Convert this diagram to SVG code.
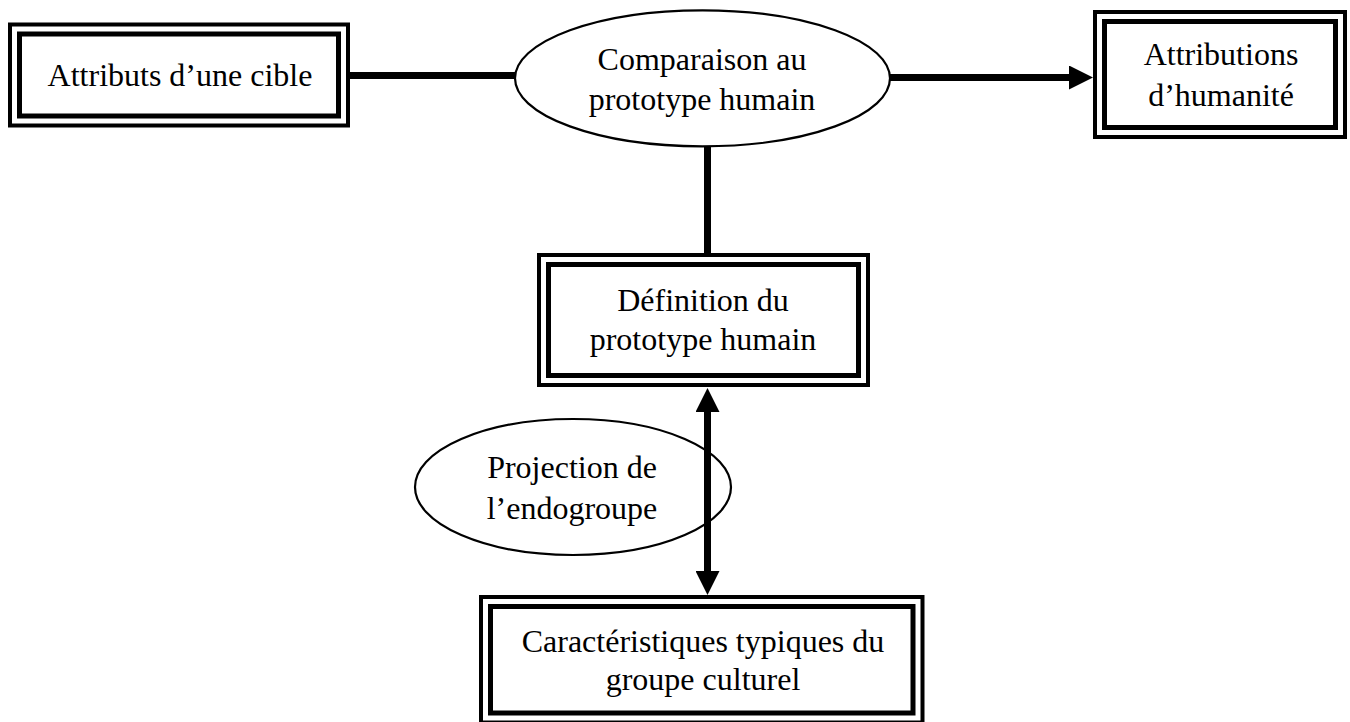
<svg xmlns="http://www.w3.org/2000/svg" width="1350" height="722" viewBox="0 0 1350 722">
  <style>
    .outer { fill: #ffffff; stroke: #000000; stroke-width: 4; }
    .inner { fill: none; stroke: #000000; stroke-width: 5; }
    .ell { fill: #ffffff; stroke: #000000; stroke-width: 2.2; }
    .lbl { font-family: "Liberation Serif", "Times New Roman", serif; font-size: 32px; fill: #000000; text-anchor: middle; }
    .conn { stroke: #000000; stroke-width: 7; fill: none; }
  </style>
  <defs>
    <marker id="arrow" viewBox="0 0 24 24" refX="0" refY="12" markerWidth="24" markerHeight="24" markerUnits="userSpaceOnUse" orient="auto-start-reverse">
      <path d="M0,0 L24,12 L0,24 Z" fill="#000000"/>
    </marker>
  </defs>
  <rect x="0" y="0" width="1350" height="722" fill="#ffffff"/>

  <g id="node-attributs">
    <rect class="outer" x="10" y="24.5" width="338" height="101"/>
    <rect class="inner" x="19.5" y="34" width="319" height="82"/>
    <text class="lbl" x="180" y="86">Attributs d’une cible</text>
  </g>

  <g id="node-comparaison">
    <ellipse class="ell" cx="702.5" cy="78.3" rx="187.5" ry="68"/>
    <text class="lbl" x="702" y="70">Comparaison au</text>
    <text class="lbl" x="702" y="110">prototype humain</text>
  </g>

  <g id="node-attributions">
    <rect class="outer" x="1095" y="12" width="250" height="125"/>
    <rect class="inner" x="1104.5" y="21.5" width="231" height="106"/>
    <text class="lbl" x="1221" y="65">Attributions</text>
    <text class="lbl" x="1221" y="106">d’humanité</text>
  </g>

  <g id="node-definition">
    <rect class="outer" x="539" y="255" width="329" height="130"/>
    <rect class="inner" x="548.5" y="264.5" width="310" height="111"/>
    <text class="lbl" x="703" y="311">Définition du</text>
    <text class="lbl" x="703" y="350">prototype humain</text>
  </g>

  <g id="node-projection">
    <ellipse class="ell" cx="573" cy="487" rx="158" ry="68"/>
    <text class="lbl" x="572" y="478">Projection de</text>
    <text class="lbl" x="572" y="519">l’endogroupe</text>
  </g>

  <g id="node-caracteristiques">
    <rect class="outer" x="481" y="597" width="441.5" height="125.5"/>
    <rect class="inner" x="490.5" y="606.5" width="422.5" height="106.5"/>
    <text class="lbl" x="703" y="652">Caractéristiques typiques du</text>
    <text class="lbl" x="703" y="690">groupe culturel</text>
  </g>

  <g id="connectors">
    <line class="conn" x1="350" y1="75.5" x2="516" y2="75.5"/>
    <line class="conn" x1="889" y1="77.5" x2="1069" y2="77.5" marker-end="url(#arrow)"/>
    <line class="conn" x1="707.5" y1="146" x2="707.5" y2="253"/>
    <line class="conn" x1="707.5" y1="412" x2="707.5" y2="571" marker-start="url(#arrow)" marker-end="url(#arrow)"/>
  </g>
</svg>
